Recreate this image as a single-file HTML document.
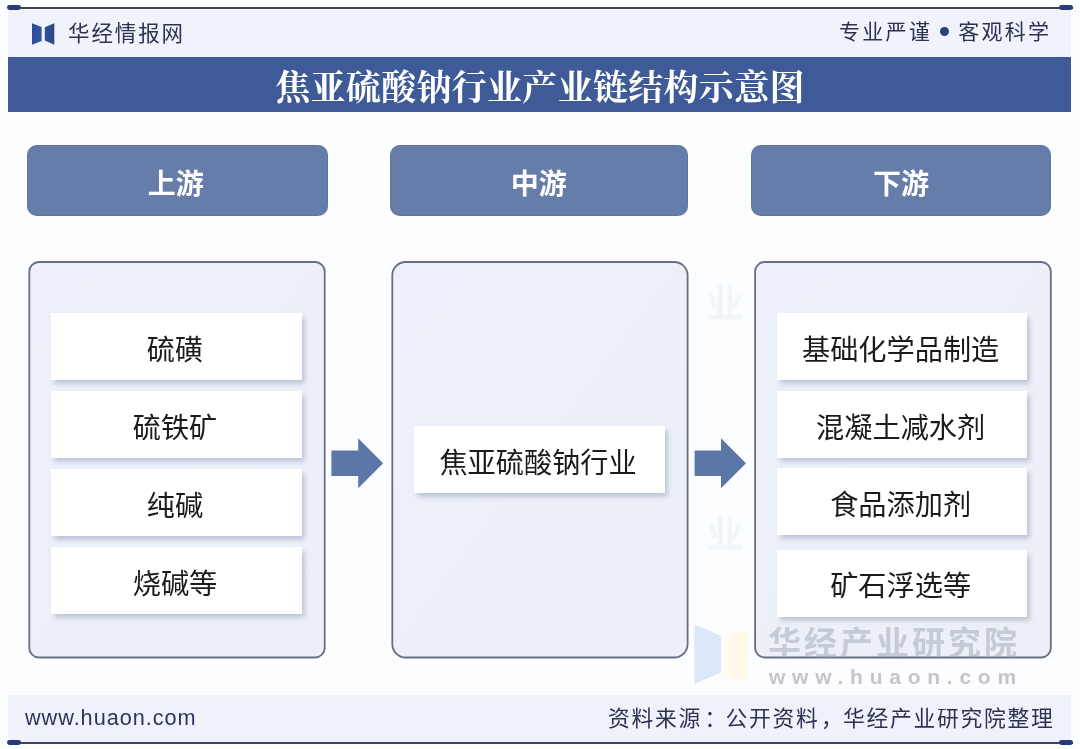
<!DOCTYPE html>
<html lang="zh-CN">
<head>
<meta charset="utf-8">
<title>焦亚硫酸钠行业产业链结构示意图</title>
<style>
  html,body{margin:0;padding:0;}
  body{width:1080px;height:749px;position:relative;overflow:hidden;background:#fcfdff;
       font-family:"Liberation Sans","Noto Sans CJK SC",sans-serif;color:#1c1c1e;}
  .abs{position:absolute;}
  .item,.btn,.brand,.slogan,.title,.url,.src,.wm1,.wm2{will-change:transform;}
  /* top rule */
  .rule{position:absolute;left:8px;width:1065px;height:1.8px;background:#3f4557;}
  .cap{position:absolute;width:14.3px;height:4.8px;border-radius:2.4px;background:#263c7a;}
  .hdr{position:absolute;left:8px;top:10px;width:1063px;height:47px;background:#f0f3fc;}
  .brand{position:absolute;left:68px;top:18px;height:32px;line-height:32px;font-size:21.5px;letter-spacing:1.9px;color:#2b3350;white-space:nowrap;}
  .slogan{position:absolute;right:29px;top:16px;height:32px;line-height:32px;font-size:21px;letter-spacing:2.3px;color:#2b3350;white-space:nowrap;}
  .slogan .dot{display:inline-block;width:9px;height:9px;border-radius:50%;background:#2e4277;vertical-align:middle;margin:0 9px 3px 8px;}
  .titlebar{position:absolute;left:7.5px;top:56.5px;width:1063px;height:55px;background:#3e5b97;}
  .title{position:absolute;left:0;top:0;width:1080px;text-align:center;height:56px;line-height:56px;
         font-family:"Liberation Serif","Noto Serif CJK SC",serif;font-weight:700;font-size:35px;color:#fff;letter-spacing:0.3px;white-space:nowrap;}
  .btn{position:absolute;top:144.8px;height:71px;border-radius:10px;background:#667daa;box-shadow:inset 0 0 0 1px rgba(80,100,145,.35);color:#fff;
       font-weight:700;font-size:28px;text-align:center;line-height:80.4px;}
  .panel{position:absolute;top:261px;height:396px;box-sizing:border-box;border:1.5px solid #5a6681;border-radius:10px;background:#eef1f8;}
  .item{position:absolute;height:66.5px;line-height:74.5px;background:#fff;text-align:center;font-size:28.2px;color:#1b1b1d;
        box-shadow:2.5px 3.5px 5px rgba(118,128,165,.42);white-space:nowrap;text-indent:-3px;}
  .footband{position:absolute;left:8px;top:694.5px;width:1063px;height:48px;background:#f0f2fb;}
  .url{position:absolute;left:24.7px;top:701.5px;height:32px;line-height:32px;font-size:21.7px;color:#2b3560;letter-spacing:.95px;}
  .src{position:absolute;right:25.5px;top:703px;height:32px;line-height:32px;font-size:21.8px;letter-spacing:1.7px;color:#2b3350;white-space:nowrap;}
  .wm1{position:absolute;left:768px;top:622px;font-size:33px;font-weight:700;letter-spacing:3px;color:rgba(150,158,172,.45);white-space:nowrap;line-height:44px;}
  .wm2{position:absolute;left:769px;top:662.5px;font-size:21px;letter-spacing:6.75px;font-weight:700;color:rgba(150,150,156,.55);white-space:nowrap;line-height:28px;}
</style>
</head>
<body>
  <div class="hdr"></div>
  <div class="rule" style="top:6.85px"></div>
  <div class="cap" style="left:7.2px;top:5.2px"></div>
  <div class="cap" style="left:1059px;top:5.2px"></div>

  <svg class="abs" style="left:31px;top:22px" width="25" height="24" viewBox="0 0 25 24">
    <defs>
      <linearGradient id="lg1" x1="0" x2="1" y1="0" y2="0"><stop offset="0" stop-color="#2d4b9a"/><stop offset="1" stop-color="#3355a5"/></linearGradient>
      <linearGradient id="lg2" x1="0" x2="1" y1="0" y2="0"><stop offset="0" stop-color="#2f4f9c"/><stop offset=".7" stop-color="#2b4a8e"/><stop offset="1" stop-color="#1f506f"/></linearGradient>
    </defs>
    <polygon points="1,1.3 10.6,5 10.6,19 1,22.8" fill="url(#lg1)"/>
    <polygon points="13.8,5.2 23.3,1.3 23.3,22.8 13.8,18.6" fill="url(#lg2)"/>
  </svg>
  <div class="brand">华经情报网</div>
  <div class="slogan">专业严谨<span class="dot"></span>客观科学</div>

  <div class="titlebar"></div>
  <div class="title" style="top:61px">焦亚硫酸钠行业产业链结构示意图</div>

  <div class="btn" style="left:26.9px;width:300.6px;text-indent:-3px">上游</div>
  <div class="btn" style="left:390.3px;width:297.5px">中游</div>
  <div class="btn" style="left:751.1px;width:300px">下游</div>

  <svg class="abs" style="left:0;top:0" width="1080" height="749" viewBox="0 0 1080 749">
    <defs>
      <linearGradient id="pg" x1="0" x2="1" y1="0" y2="1"><stop offset="0" stop-color="#ecf0fa"/><stop offset="1" stop-color="#ebf0f7"/></linearGradient>
    </defs>
    <rect x="29.3" y="262" width="295.4" height="395.5" rx="9.5" ry="9.5" fill="url(#pg)" stroke="#666e81" stroke-width="1.8"/>
    <rect x="392.3" y="262" width="295.3" height="395.5" rx="13.5" ry="13.5" fill="url(#pg)" stroke="#666e81" stroke-width="1.8"/>
    <rect x="755.1" y="262" width="295.7" height="395.5" rx="9.5" ry="9.5" fill="url(#pg)" stroke="#666e81" stroke-width="1.8"/>
  </svg>

  <!-- watermark -->
  <div class="abs" style="left:706px;top:280px;font-size:38px;font-weight:700;line-height:48px;color:rgba(190,200,225,.15)">业</div>
  <div class="abs" style="left:706px;top:510px;font-size:38px;font-weight:700;line-height:48px;color:rgba(190,200,225,.15)">业</div>
  <svg class="abs" style="left:690px;top:620px" width="70" height="70" viewBox="0 0 70 70">
    <polygon points="4.4,4.4 30.9,15.8 30.9,52.5 4.4,63.9" fill="#dbe7f8"/>
    <polygon points="35,15.8 57.3,8 57.3,62 35,57" fill="#fffae9"/>
  </svg>
  <div class="wm1">华经产业研究院</div>
  <div class="wm2">www.huaon.com</div>

  <div class="item" style="left:50.7px;width:251px;top:313.2px">硫磺</div>
  <div class="item" style="left:50.7px;width:251px;top:390.9px">硫铁矿</div>
  <div class="item" style="left:50.7px;width:251px;top:469.1px">纯碱</div>
  <div class="item" style="left:50.7px;width:251px;top:546.7px">烧碱等</div>

  <div class="item" style="left:413.8px;width:251.2px;top:426.2px">焦亚硫酸钠行业</div>

  <div class="item" style="left:777px;width:250.3px;top:313px">基础化学品制造</div>
  <div class="item" style="left:777px;width:250.3px;top:390.7px">混凝土减水剂</div>
  <div class="item" style="left:777px;width:250.3px;top:468.2px">食品添加剂</div>
  <div class="item" style="left:777px;width:250.3px;top:550px;line-height:72px">矿石浮选等</div>

  <svg class="abs" style="left:331px;top:438px" width="53" height="51" viewBox="0 0 53 51">
    <polygon points="0.4,12.6 27.2,12.6 27.2,0.3 52.1,25.3 27.2,50.3 27.2,37.9 0.4,37.9" fill="#5b76a7"/>
  </svg>
  <svg class="abs" style="left:694px;top:438px" width="53" height="51" viewBox="0 0 53 51">
    <polygon points="0.6,12.6 27,12.6 27,0.3 52,25.3 27,50.3 27,37.9 0.6,37.9" fill="#5b76a7"/>
  </svg>

  <div class="footband"></div>
  <div class="url">www.huaon.com</div>
  <div class="src">资料来源<span style="position:relative;left:2.5px">：</span>公开资料<span style="position:relative;left:1.5px">，</span>华经产业研究院整理</div>
  <div class="rule" style="top:741.8px"></div>
  <div class="cap" style="left:7.2px;top:740.1px"></div>
  <div class="cap" style="left:1059px;top:740.1px"></div>
</body>
</html>
